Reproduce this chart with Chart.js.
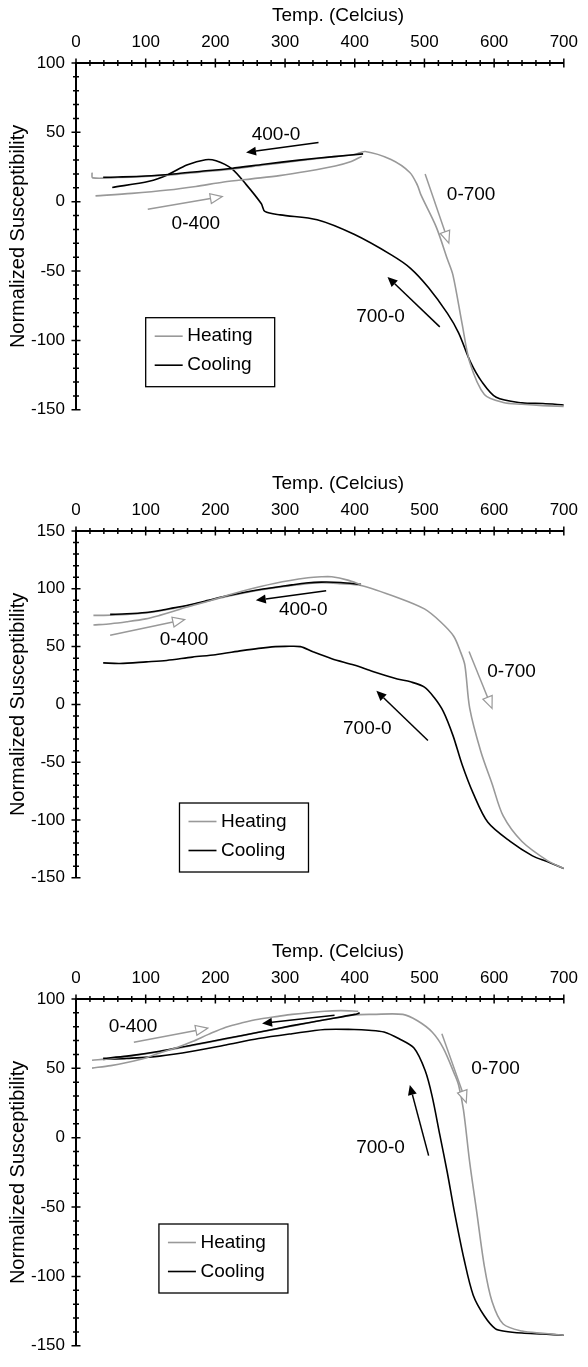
<!DOCTYPE html>
<html>
<head>
<meta charset="utf-8">
<script src="https://cdn.jsdelivr.net/npm/chart.js@4.4.1/dist/chart.umd.min.js"></script>
<style>
  html, body { margin: 0; padding: 0; background: #fff; }
  body { width: 588px; height: 1367px; position: relative; overflow: hidden; }
  .panel { position: absolute; left: 0; width: 588px; height: 432px; }
</style>
</head>
<body>
<div class="panel" style="top:-1px"><canvas id="chart1" width="588" height="432"></canvas></div>
<div class="panel" style="top:467px"><canvas id="chart2" width="588" height="432"></canvas></div>
<div class="panel" style="top:935px"><canvas id="chart3" width="588" height="432"></canvas></div>
<script>
// temperature axis (Celcius)
const xTicks = [0, 100, 200, 300, 400, 500, 600, 700];

// panel 1: [temperature, normalized susceptibility]
const p1Heat0400 = [[28, 4.2], [80, 6], [132, 8.4], [172, 11], [212, 14.2], [252, 16.5], [292, 18.8], [332, 22], [372, 25.8], [395, 29], [410, 32.7]];
const p1Cool4000 = [[412, 34.5], [370, 32.5], [320, 30], [270, 27], [223, 24], [180, 22], [140, 20], [100, 18.5], [60, 17.8], [39, 17.6]];
const p1Heat0700 = [[23, 21], [24, 17.2], [60, 17.5], [100, 18.3], [140, 19.5], [180, 21.5], [223, 23.5], [270, 26.5], [320, 29.5], [370, 32.5], [400, 34], [415, 36.2], [452, 30.4], [479, 21.1], [490, 11.8], [495, 4.9], [517, -18.3], [533, -41.5], [541, -53.1], [554, -87.9], [565, -115.7], [586, -138.9], [613, -144.7], [640, -146], [670, -147], [700, -147.5]];
const p1Cool7000 = [[700, -146.5], [670, -145.5], [640, -145], [603, -141], [582, -129.5], [566, -115.5], [549, -94.5], [533, -80.5], [506, -62], [480, -48], [453, -38.5], [399, -23.5], [346, -13], [293, -9.5], [271, -7], [266, -1.5], [244, 12.5], [223, 24], [201, 29.5], [186, 30.3], [159, 26.5], [132, 19.5], [105, 14.8], [52, 10.3]];
const p1YRange = [-150, 100];

// panel 2
const p2Heat0400 = [[25, 68.7], [50, 69.8], [73, 71.5], [100, 74], [120, 77], [140, 80.5], [158, 84], [191, 89.5], [238, 97.9], [286, 104.8], [333, 109.5], [352, 110.4], [367, 110.4], [390, 107.5], [409, 103.4]];
const p2Cool4000 = [[409, 103.8], [380, 105.5], [352, 105.8], [330, 105], [310, 103.4], [262, 99.2], [215, 93.7], [190, 90], [167, 86.7], [140, 83.5], [120, 81.2], [100, 79.5], [73, 78.4], [49, 77.9]];
const p2Heat0700 = [[25, 77], [40, 77], [73, 77.8], [100, 79], [120, 80.8], [158, 85.2], [190, 89.5], [215, 93.2], [262, 98.8], [310, 103], [352, 105.3], [380, 104.5], [409, 102.9], [462, 92.3], [500, 82.6], [523, 71.5], [542, 59], [552, 45], [558, 34], [565, -3.5], [581, -41], [597, -68.6], [613, -96.5], [640, -118.6], [677, -135.3], [700, -142]];
const p2Cool7000 = [[700, -142], [676, -136], [655, -131], [623, -118.5], [591, -102], [570, -77], [554, -52], [541, -27], [527, -6], [514, 6], [500, 15], [480, 19.5], [461, 22], [426, 28.5], [399, 34], [367, 39.5], [340, 45.5], [322, 50], [300, 50.2], [286, 50], [262, 48.5], [238, 46.5], [200, 43], [167, 40.9], [130, 38], [101, 36.8], [63, 35.4], [39, 35.9]];
const p2YRange = [-150, 150];

// panel 3
const p3Heat0400 = [[23, 50.2], [50, 52], [73, 54.2], [100, 57.5], [120, 61.1], [145, 65], [167, 69.3], [190, 74.5], [215, 79.7], [240, 83], [262, 85.4], [290, 87.5], [310, 88.9], [357, 91.2], [380, 91.6], [405, 91.2]];
const p3Cool4000 = [[407, 90], [400, 88.9], [357, 85], [310, 80.8], [262, 76], [215, 71.5], [190, 69], [167, 66.9], [120, 62.3], [73, 58.8], [39, 57.2]];
const p3Heat0700 = [[23, 55.8], [50, 57], [73, 58.5], [120, 62], [167, 66.5], [215, 71.2], [262, 76], [310, 80.5], [357, 85], [400, 88.5], [426, 88.9], [469, 88.9], [490, 84.3], [511, 76.2], [527, 64.6], [543, 46], [549, 38], [556, 20], [565, -18], [575, -53.4], [586, -92.7], [597, -118], [613, -134.3], [640, -139.4], [670, -141], [700, -142.4]];
const p3Cool7000 = [[700, -142.4], [670, -141.5], [640, -140.8], [615, -139.5], [602, -137.8], [586, -128.5], [570, -113.5], [557, -88], [543, -53.4], [533, -25.6], [522, 2.2], [511, 30], [501, 48.4], [485, 64.6], [463, 71.5], [442, 76.2], [420, 77.5], [399, 78], [357, 78], [310, 75], [262, 71.5], [215, 66.9], [167, 62.3], [120, 58.8], [73, 57.2], [39, 56.5]];
const p3YRange = [-150, 100];

// annotations: [text, x, y] and arrows [x1, y1, x2, y2, run]
const p1Notes = [['400-0', 287, 48.5], ['0-400', 172, -16], ['0-700', 567, 4.9], ['700-0', 437, -83.2]];
const p1Arrows = [[348, 42.7, 244, 35.5, 'cool'], [103, -5.5, 210, 3.7, 'heat'], [501, 20, 535, -29.9, 'heat'], [522, -90.2, 447, -54.2, 'cool']];
const p2Notes = [['400-0', 326, 81.7], ['0-400', 155, 56.2], ['0-700', 625, 28.4], ['700-0', 418, -21.5]];
const p2Arrows = [[359, 98.4, 258, 90, 'cool'], [49, 59.8, 156, 73.4, 'heat'], [564, 45.7, 597, -3.5, 'heat'], [505, -31.2, 431, 11.8, 'cool']];
const p3Notes = [['0-400', 82, 79.7], ['0-700', 602, 49.6], ['700-0', 437, -7.3]];
const p3Arrows = [[83, 68.8, 189, 79, 'heat'], [371, 88.2, 267, 82.4, 'cool'], [525, 75, 560, 25.3, 'heat'], [506, -12.9, 479, 38, 'cool']];

// legend box corner (data units)
const p1LegendAt = [100, -83.6];
const p2LegendAt = [148.5, -85.3];
const p3LegendAt = [119, -62.2];

const HEAT = '#999999';
const COOL = '#000000';
const FONT = 'Liberation Sans, Arial, Helvetica, sans-serif';

function toXY(arr) {
    return arr.map((p) => ({ x: p[0], y: p[1] }));
}

function arrow(ctx, x1, y1, x2, y2, run) {
    const a = Math.atan2(y2 - y1, x2 - x1);
    const hollow = run === 'heat';
    const len = hollow ? 12 : 10;
    const half = hollow ? 5 : 4.5;
    const bx = x2 - len * Math.cos(a), by = y2 - len * Math.sin(a);
    const nx = -Math.sin(a) * half, ny = Math.cos(a) * half;
    const col = hollow ? HEAT : COOL;
    ctx.strokeStyle = col;
    ctx.fillStyle = col;
    ctx.lineWidth = 1.5;
    ctx.beginPath();
    ctx.moveTo(x1, y1);
    ctx.lineTo(bx, by);
    ctx.stroke();
    ctx.beginPath();
    ctx.moveTo(x2, y2);
    ctx.lineTo(bx + nx, by + ny);
    ctx.lineTo(bx - nx, by - ny);
    ctx.closePath();
    if (hollow) {
        ctx.fillStyle = '#fff';
        ctx.fill();
        ctx.lineWidth = 1.2;
        ctx.stroke();
    } else {
        ctx.fill();
    }
}

// tick crosses, arrows, notes, legend box and the top title
const overlay = {
    id: 'overlay',
    afterDraw(chart) {
        const { ctx, chartArea, scales: { x, y } } = chart;
        const cfg = chart.options.plugins.overlay;
        ctx.save();
        ctx.strokeStyle = '#000';
        ctx.lineWidth = 1.5;
        ctx.beginPath();
        for (let v = x.min; v <= x.max; v += 20) {
            const px = x.getPixelForValue(v);
            const l = v % 100 === 0 ? 4.5 : 3;
            ctx.moveTo(px, chartArea.top - l);
            ctx.lineTo(px, chartArea.top + l);
        }
        for (let v = y.min; v <= y.max; v += 10) {
            const py = y.getPixelForValue(v);
            const l = v % 50 === 0 ? 4.5 : 3;
            ctx.moveTo(chartArea.left - l, py);
            ctx.lineTo(chartArea.left + l, py);
        }
        ctx.stroke();

        cfg.arrows.forEach((a) => {
            arrow(ctx, x.getPixelForValue(a[0]), y.getPixelForValue(a[1]),
                x.getPixelForValue(a[2]), y.getPixelForValue(a[3]), a[4]);
        });

        ctx.fillStyle = '#000';
        ctx.font = '19px ' + FONT;
        ctx.textAlign = 'center';
        ctx.textBaseline = 'middle';
        cfg.notes.forEach((n) => {
            ctx.fillText(n[0], x.getPixelForValue(n[1]), y.getPixelForValue(n[2]));
        });

        ctx.fillText('Temp. (Celcius)', chartArea.left + 262, chartArea.top - 47);

        // legend
        const lx = x.getPixelForValue(cfg.legendAt[0]);
        const ly = y.getPixelForValue(cfg.legendAt[1]);
        ctx.fillStyle = '#fff';
        ctx.fillRect(lx, ly, 129, 69);
        ctx.strokeStyle = '#000';
        ctx.lineWidth = 1.3;
        ctx.strokeRect(lx, ly, 129, 69);
        const entries = [['Heating', HEAT, 18.5], ['Cooling', COOL, 47.5]];
        ctx.textAlign = 'left';
        entries.forEach((e) => {
            ctx.strokeStyle = e[1];
            ctx.lineWidth = 1.6;
            ctx.beginPath();
            ctx.moveTo(lx + 9, ly + e[2]);
            ctx.lineTo(lx + 37, ly + e[2]);
            ctx.stroke();
            ctx.fillStyle = '#000';
            ctx.fillText(e[0], lx + 41.5, ly + e[2]);
        });
        ctx.restore();
    },
};

function makeChart(id, runs, yRange, notes, arrows, legendAt) {
    const tickFont = { family: FONT, size: 17 };
    new Chart(document.getElementById(id), {
        type: 'line',
        data: {
            datasets: [
                { label: 'Heating', data: toXY(runs[0]), borderColor: HEAT },
                { label: 'Cooling', data: toXY(runs[1]), borderColor: COOL },
                { label: 'Heating', data: toXY(runs[2]), borderColor: HEAT },
                { label: 'Cooling', data: toXY(runs[3]), borderColor: COOL },
            ].map((d) => Object.assign(d, { borderWidth: 1.6, pointRadius: 0, tension: 0.3, fill: false })),
        },
        options: {
            responsive: false,
            animation: false,
            devicePixelRatio: 1,
            layout: { padding: { left: 0, right: 20, top: 0, bottom: 8 } },
            scales: {
                x: {
                    type: 'linear',
                    position: 'top',
                    min: xTicks[0],
                    max: xTicks[xTicks.length - 1],
                    afterFit: (s) => { s.height = 64; },
                    grid: { display: false, drawTicks: false },
                    border: { display: true, color: '#000', width: 2 },
                    ticks: { stepSize: 100, padding: 10, color: '#000', font: tickFont },
                },
                y: {
                    type: 'linear',
                    min: yRange[0],
                    max: yRange[1],
                    afterFit: (s) => { s.width = 76; },
                    grid: { display: false, drawTicks: false },
                    border: { display: true, color: '#000', width: 2 },
                    ticks: { stepSize: 50, padding: 11, color: '#000', font: tickFont },
                    title: {
                        display: true,
                        text: 'Normalized Susceptibility',
                        color: '#000',
                        font: { family: FONT, size: 20 },
                        padding: { top: 6, bottom: 0 },
                    },
                },
            },
            plugins: {
                legend: { display: false },
                tooltip: { enabled: false },
                overlay: { notes: notes, arrows: arrows, legendAt: legendAt },
            },
        },
        plugins: [overlay],
    });
}

makeChart('chart1', [p1Heat0400, p1Cool4000, p1Heat0700, p1Cool7000], p1YRange, p1Notes, p1Arrows, p1LegendAt);
makeChart('chart2', [p2Heat0400, p2Cool4000, p2Heat0700, p2Cool7000], p2YRange, p2Notes, p2Arrows, p2LegendAt);
makeChart('chart3', [p3Heat0400, p3Cool4000, p3Heat0700, p3Cool7000], p3YRange, p3Notes, p3Arrows, p3LegendAt);
</script>
</body>
</html>
